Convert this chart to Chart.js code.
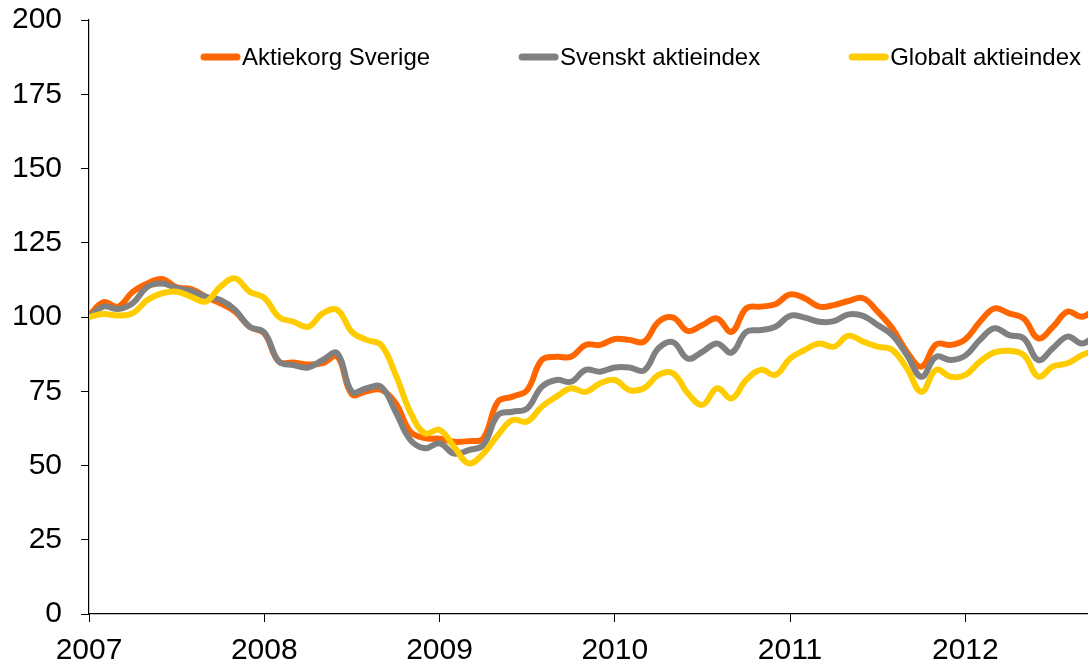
<!DOCTYPE html>
<html>
<head>
<meta charset="utf-8">
<script src="https://cdn.jsdelivr.net/npm/chart.js@4.4.1/dist/chart.umd.min.js"></script>
<style>
  html, body { margin: 0; padding: 0; background: #fff; }
  #wrap { width: 1088px; height: 670px; }
</style>
</head>
<body>
<div id="wrap"><canvas id="chartCanvas"></canvas></div>
<script>
// DATA - monthly index values, jan 2007 = 100
const startYear = 2007;
const yearTicks = [0, 12, 24, 36, 48, 60];

const aktiekorg = [100.5, 105, 103.5, 108.5, 111.3, 112.8, 110, 109.4, 106.8, 104.6, 101.8, 96.7,
  94.5, 85, 84.7, 84, 84.5, 86.7, 74, 75, 75.5, 71, 61.4, 59.2,
  59, 58, 58.2, 59.2, 71.5, 73.2, 75.4, 85.5, 86.6, 86.6, 90.6, 90.6,
  92.6, 92.3, 91.7, 98.4, 99.8, 95.3, 97.3, 99.5, 95, 102.9, 103.5, 104.3,
  107.6, 106.3, 103.5, 104, 105.4, 106.3, 101.8, 96.2, 88.3, 83.3, 90.8, 90.6,
  92.5, 98.4, 102.9, 101.2, 99.5, 92.8, 96.7, 101.8, 100.1, 103];

const svenskt = [100, 103.5, 102.7, 104.7, 110.2, 111.3, 109.7, 108.7, 106.8, 105.7, 102.4, 96.7,
  94.8, 85, 83.8, 83, 85.5, 87.8, 74.8, 76, 76.5, 68, 58.6, 55.8,
  57.5, 54, 55.2, 56.9, 67, 68.1, 69.2, 76.5, 78.8, 78.2, 82.2, 81.6,
  83, 83, 82, 89.5, 91.5, 86, 88.3, 91.1, 88, 95, 95.6, 96.7,
  100.4, 99.8, 98.4, 98.6, 100.9, 100.4, 97.3, 93.9, 87.2, 79.9, 86.6, 85.5,
  87, 92.3, 96.2, 93.9, 92.8, 85.5, 89.5, 93.4, 91.1, 94];

const globalt = [100, 101, 100.5, 101.3, 105.7, 108, 108.5, 106.8, 105.2, 110.2, 113, 108.5,
  106.5, 100, 98.4, 96.7, 101.2, 102.4, 95, 92.3, 90.6, 80.5, 68, 60.8,
  62, 56.3, 50.7, 54, 60.3, 65.3, 64.8, 69.8, 73.2, 76, 74.8, 77.7,
  78.8, 75.4, 76, 80.5, 81, 74.3, 70.4, 76, 72.6, 78.8, 82.2, 80.5,
  86, 88.9, 91.1, 90, 93.7, 91.7, 90, 88.9, 82.7, 74.8, 82.2, 79.9,
  80.5, 85, 88.1, 88.6, 87.2, 79.9, 83.3, 84.4, 87.2, 89];

const toPoints = arr => arr.map((v, i) => ({ x: i, y: v }));

const FONT = '"Liberation Sans", Arial, sans-serif';

// legend drawn inside the plot, spread out like the original
const inlineLegend = {
  id: 'inlineLegend',
  afterDraw(chart) {
    const ctx = chart.ctx;
    const items = chart.data.datasets;
    let x = 200;
    const y = 57;
    ctx.save();
    ctx.font = '24px ' + FONT;
    ctx.textBaseline = 'middle';
    items.forEach(ds => {
      ctx.strokeStyle = ds.borderColor;
      ctx.lineWidth = 7;
      ctx.lineCap = 'round';
      ctx.beginPath();
      ctx.moveTo(x + 4, y);
      ctx.lineTo(x + 37, y);
      ctx.stroke();
      ctx.fillStyle = '#000';
      ctx.fillText(ds.label, x + 42, y + 1);
      x += 42 + ctx.measureText(ds.label).width + 88;
    });
    ctx.restore();
  }
};

const config = {
  type: 'line',
  data: {
    datasets: [{
      label: 'Aktiekorg Sverige',
      data: toPoints(aktiekorg),
      borderColor: '#FF6600',
      order: 3
    }, {
      label: 'Svenskt aktieindex',
      data: toPoints(svenskt),
      borderColor: '#808080',
      order: 2
    }, {
      label: 'Globalt aktieindex',
      data: toPoints(globalt),
      borderColor: '#FFCC00',
      order: 1
    }]
  },
  options: {
    responsive: true,
    maintainAspectRatio: false,
    animation: false,
    devicePixelRatio: 1,
    layout: { padding: { left: 0, top: 20, right: 0, bottom: 0 } },
    elements: {
      line: { borderWidth: 6, tension: 0.4, borderCapStyle: 'round', borderJoinStyle: 'round', fill: false },
      point: { radius: 0 }
    },
    plugins: {
      legend: { display: false },
      tooltip: { enabled: false }
    },
    scales: {
      x: {
        type: 'linear',
        min: 0,
        max: 68.4,
        afterBuildTicks: axis => { axis.ticks = yearTicks.map(v => ({ value: v })); },
        afterFit: axis => { axis.height = 56; },
        ticks: {
          color: '#000',
          font: { family: FONT, size: 30 },
          padding: 11,
          maxRotation: 0,
          callback: v => String(startYear + v / 12)
        },
        grid: { drawOnChartArea: false, color: '#000', tickLength: 8 },
        border: { color: '#000', width: 1.2 }
      },
      y: {
        min: 0,
        max: 200,
        afterFit: axis => { axis.width = 89; axis.paddingTop = 0; axis.paddingBottom = 0; },
        ticks: {
          stepSize: 25,
          color: '#000',
          font: { family: FONT, size: 30 },
          padding: 19
        },
        grid: { drawOnChartArea: false, color: '#000', tickLength: 8 },
        border: { color: '#000', width: 1.2 }
      }
    }
  },
  plugins: [inlineLegend]
};

new Chart(document.getElementById('chartCanvas'), config);
</script>
</body>
</html>
